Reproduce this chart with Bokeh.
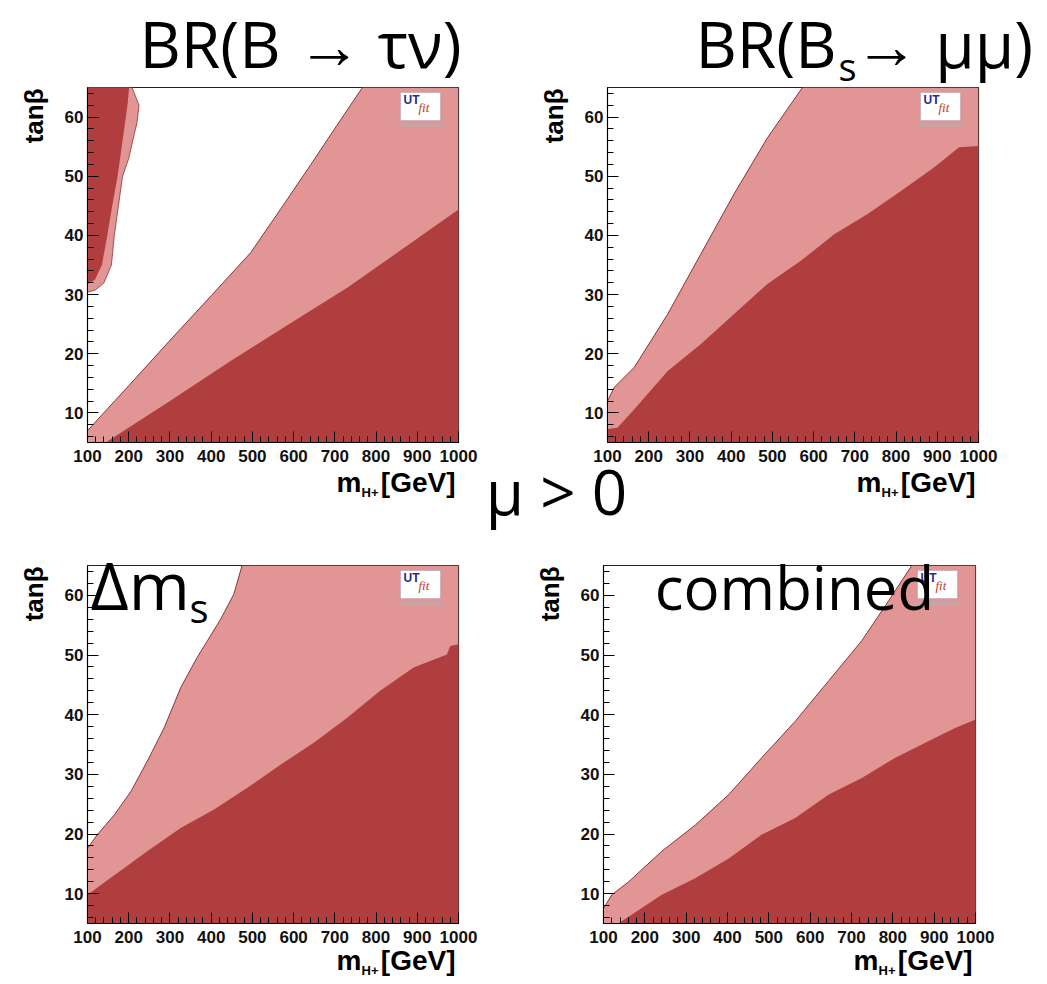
import math
from bokeh.plotting import figure
from bokeh.models import Range1d, FixedTicker, Label, BoxAnnotation
from bokeh.layouts import column, row
from bokeh.embed import file_html
from bokeh.resources import INLINE

# ---------------- data ----------------
m_major = [100, 200, 300, 400, 500, 600, 700, 800, 900, 1000]
m_minor = list(range(100, 1001, 20))
tb_major = [10, 20, 30, 40, 50, 60]
tb_minor = list(range(6, 65, 2))

# BR(B -> tau nu)
btn_light_m = [100, 200, 298, 400, 496, 570, 642, 705, 767]
btn_light_tb = [7.0, 14.6, 22.1, 29.8, 37.1, 44.6, 52.0, 58.6, 65.0]
btn_dark_m = [144, 300, 448, 600, 731, 870, 1000]
btn_dark_tb = [5.0, 12.0, 18.8, 25.5, 31.2, 38.0, 44.4]
btn_isl_light_m = [100, 120, 140, 158, 165, 175, 185, 200, 213, 220, 225, 208]
btn_isl_light_tb = [30.4, 30.8, 32.0, 35.0, 40.0, 45.0, 50.0, 53.0, 57.0, 59.0, 62.0, 65.0]
btn_isl_dark_m = [100, 118, 135, 148, 160, 173, 183, 193, 197, 201]
btn_isl_dark_tb = [31.8, 32.5, 35.0, 40.0, 45.0, 50.0, 55.0, 60.0, 62.0, 65.0]

# BR(Bs -> mu mu)
bsmm_light_m = [100, 116, 165, 246, 326, 407, 488, 573]
bsmm_light_tb = [12.0, 14.3, 17.7, 26.7, 36.8, 47.0, 56.5, 65.0]
bsmm_dark_m = [100, 124, 165, 246, 326, 407, 488, 569, 650, 731, 812, 892, 953, 1000]
bsmm_dark_tb = [7.3, 7.5, 10.6, 17.1, 21.6, 26.7, 31.8, 35.7, 40.2, 43.6, 47.5, 51.5, 54.9, 55.1]

# Delta m_s
dms_light_m = [100, 124, 165, 205, 245, 286, 326, 366, 391, 423, 455, 475]
dms_light_tb = [17.6, 19.9, 23.2, 27.1, 32.2, 37.8, 44.5, 49.6, 52.4, 56.0, 60.2, 65.0]
dms_dark_m = [100, 165, 245, 326, 407, 487, 568, 649, 730, 810, 891, 972, 980, 1000]
dms_dark_tb = [9.8, 13.1, 17.1, 21.0, 24.1, 27.7, 31.6, 35.3, 39.5, 44.0, 47.9, 50.1, 51.5, 51.8]

# combined
comb_light_m = [100, 120, 161, 241, 322, 403, 483, 564, 645, 725, 790, 822, 846]
comb_light_tb = [7.5, 9.8, 12.0, 17.1, 21.5, 26.6, 32.8, 38.9, 45.7, 52.4, 59.1, 62.5, 65.0]
comb_dark_m = [136, 241, 322, 403, 483, 564, 645, 725, 806, 887, 952, 1000]
comb_dark_tb = [5.0, 9.8, 12.6, 15.9, 19.9, 22.7, 26.6, 29.4, 32.8, 35.6, 37.8, 39.2]

LIGHT = "#e29595"
DARK = "#b03e3e"
EDGE = "#8c3434"
TXT_FONT = "Open Sans"
AX_FONT = "Liberation Sans"
PAGE_W, PAGE_H = 1047, 984
# empirical shift between the requested anchor and the drawn baseline (em)
BASE_SHIFT = {TXT_FONT: 0.43, AX_FONT: 0.37, "Liberation Serif": 0.37}

GEOM = {
    "p1": dict(x0=0, y0=0, w=480, h=525, bl=87, br=22, bt=87, bb=83),
    "p2": dict(x0=480, y0=0, w=567, h=525, bl=127, br=69, bt=87, bb=83),
    "p3": dict(x0=0, y0=525, w=480, h=459, bl=87, br=22, bt=40, bb=61),
    "p4": dict(x0=480, y0=525, w=567, h=459, bl=123, br=72, bt=40, bb=61),
}

# transparent overlay figure whose data coordinates are page pixels
ov = figure(width=PAGE_W, height=PAGE_H, x_range=Range1d(0, PAGE_W), y_range=Range1d(PAGE_H, 0),
            output_backend="svg", toolbar_location=None, min_border=0,
            styles={"position": "absolute", "left": "0px", "top": "0px", "z-index": "10",
                    "pointer-events": "none"})
ov.axis.visible = False
ov.xgrid.visible = False
ov.ygrid.visible = False
ov.outline_line_color = None
ov.background_fill_alpha = 0
ov.border_fill_alpha = 0


def frame_of(g):
    fl = g["x0"] + g["bl"]
    fr = g["x0"] + g["w"] - g["br"]
    ft = g["y0"] + g["bt"]
    fb = g["y0"] + g["h"] - g["bb"]
    return fl, fr, ft, fb


def to_data(g, px, py):
    fl, fr, ft, fb = frame_of(g)
    return (100 + (px - fl) / (fr - fl) * 900.0, 5 + (fb - py) / (fb - ft) * 60.0)


def lab(text, px, py, size, font=TXT_FONT, style="normal", color="black", align="left"):
    """Horizontal text whose baseline sits at page pixel py."""
    y = py - BASE_SHIFT[font] * size
    ov.add_layout(Label(x=px, y=y, text=text, text_font=font, text_font_size=f"{size}px",
                        text_font_style=style, text_color=color, text_align=align,
                        text_baseline="alphabetic"))


def vlab(text, px_base, py_top, size, font=AX_FONT, style="bold"):
    """Vertical (reading upwards) text, top end at py_top, baseline at x = px_base."""
    x = px_base - BASE_SHIFT[font] * size
    ov.add_layout(Label(x=x, y=py_top, text=text, text_font=font, text_font_size=f"{size}px",
                        text_font_style=style, text_color="black", text_align="right",
                        text_baseline="alphabetic", angle=math.pi / 2))


def make_panel(key, light_m, light_tb, dark_m, dark_tb):
    g = GEOM[key]
    p = figure(width=g["w"], height=g["h"], x_range=Range1d(100, 1000), y_range=Range1d(5, 65),
               output_backend="svg", toolbar_location=None,
               min_border_left=g["bl"], min_border_right=g["br"],
               min_border_top=g["bt"], min_border_bottom=g["bb"])
    p.xgrid.visible = False
    p.ygrid.visible = False
    p.outline_line_color = "#222222"
    p.outline_line_width = 1.2
    p.background_fill_color = "white"
    p.border_fill_color = "white"

    lx = list(light_m)
    ly = list(light_tb)
    if ly[-1] >= 65:
        lx += [1000, 1000]
        ly += [65, 5]
    else:
        lx += [1000]
        ly += [5]
    if light_m[0] <= 100:
        lx += [100]
        ly += [5]
    p.patch(lx, ly, fill_color=LIGHT, line_color=None)
    p.line(light_m, light_tb, line_color=EDGE, line_width=1)

    dx = list(dark_m) + [1000]
    dy = list(dark_tb) + [5]
    if dark_m[0] <= 100:
        dx += [100]
        dy += [5]
    p.patch(dx, dy, fill_color=DARK, line_color=None)

    for ax in (p.xaxis[0], p.yaxis[0]):
        ax.axis_line_color = "black"
        ax.major_tick_line_color = "black"
        ax.minor_tick_line_color = "black"
        ax.major_tick_in = 11
        ax.major_tick_out = 0
        ax.minor_tick_in = 6
        ax.minor_tick_out = 0
        ax.major_label_text_font = AX_FONT
        ax.major_label_text_font_style = "bold"
        ax.major_label_text_font_size = "17px"
        ax.major_label_text_color = "#111111"
    p.xaxis.ticker = FixedTicker(ticks=m_major, minor_ticks=m_minor)
    p.yaxis.ticker = FixedTicker(ticks=tb_major, minor_ticks=tb_minor)
    p.xaxis.major_label_standoff = 7
    p.yaxis.major_label_standoff = 4

    fl, fr, ft, fb = frame_of(g)
    # axis titles (ROOT style) on the overlay, in page pixels
    xt_base = fb + 50 if g["y0"] == 0 else fb + 47
    vlab("tanβ", fl - 44, ft + 1, 26)
    lab("[GeV]", fr - 3, xt_base, 28, font=AX_FONT, style="bold", align="right")
    lab("H+", fr - 80, xt_base + 5, 13, font=AX_FONT, style="bold", align="right")
    lab("m", fr - 97, xt_base, 28, font=AX_FONT, style="bold", align="right")

    # UTfit logo (inside the frame)
    bx0, by0 = to_data(g, fr - 58, ft + 33)
    bx1, by1 = to_data(g, fr - 18, ft + 5)
    p.add_layout(BoxAnnotation(left=bx0, right=bx1, bottom=by0, top=by1,
                               fill_color="white", fill_alpha=1.0,
                               line_color="#8080a8", line_width=1.2))
    sx0, sy0 = to_data(g, fr - 61, ft + 39)
    sx1, sy1 = to_data(g, fr - 14, ft + 37)
    p.add_layout(BoxAnnotation(left=sx0, right=sx1, bottom=sy0, top=sy1,
                               fill_color="#b0b0b0", fill_alpha=1.0, line_color=None))
    ux, uy = to_data(g, fr - 55, ft + 19)
    p.add_layout(Label(x=ux, y=uy, text="UT", text_font=AX_FONT, text_font_style="bold",
                       text_font_size="12px", text_color="#2a2a8a"))
    fx, fy = to_data(g, fr - 40, ft + 27)
    p.add_layout(Label(x=fx, y=fy, text="fit", text_font="Liberation Serif", text_font_style="italic",
                       text_font_size="13px", text_color="#c0392b"))
    return p


p1 = make_panel("p1", btn_light_m, btn_light_tb, btn_dark_m, btn_dark_tb)
p1.patch(btn_isl_light_m + [100], btn_isl_light_tb + [65], fill_color=LIGHT, line_color=EDGE, line_width=0.8)
p1.patch(btn_isl_dark_m + [100], btn_isl_dark_tb + [65], fill_color=DARK, line_color=None)

p2 = make_panel("p2", bsmm_light_m, bsmm_light_tb, bsmm_dark_m, bsmm_dark_tb)
p3 = make_panel("p3", dms_light_m, dms_light_tb, dms_dark_m, dms_dark_tb)
p4 = make_panel("p4", comb_light_m, comb_light_tb, comb_dark_m, comb_dark_tb)

# big hand-written style annotations (baselines in page pixels)
lab("BR(B → τν)", 300, 71, 64, align="center")
lab("BR(B", 836, 71, 64, align="right")
lab("s", 838, 82, 38)
lab(" → μμ)", 854, 71, 64)
lab("μ > 0", 556, 517, 62, align="center")
lab("Δm", 90, 612, 66)
lab("s", 189, 624, 40)
lab("combined", 794, 612, 60, align="center")

grid = column(row(p1, p2, spacing=0), row(p3, p4, spacing=0), spacing=0)
layout = column(grid, ov, spacing=0, styles={"position": "relative"})

with open("out.html", "w") as f:
    f.write(file_html(layout, INLINE))
